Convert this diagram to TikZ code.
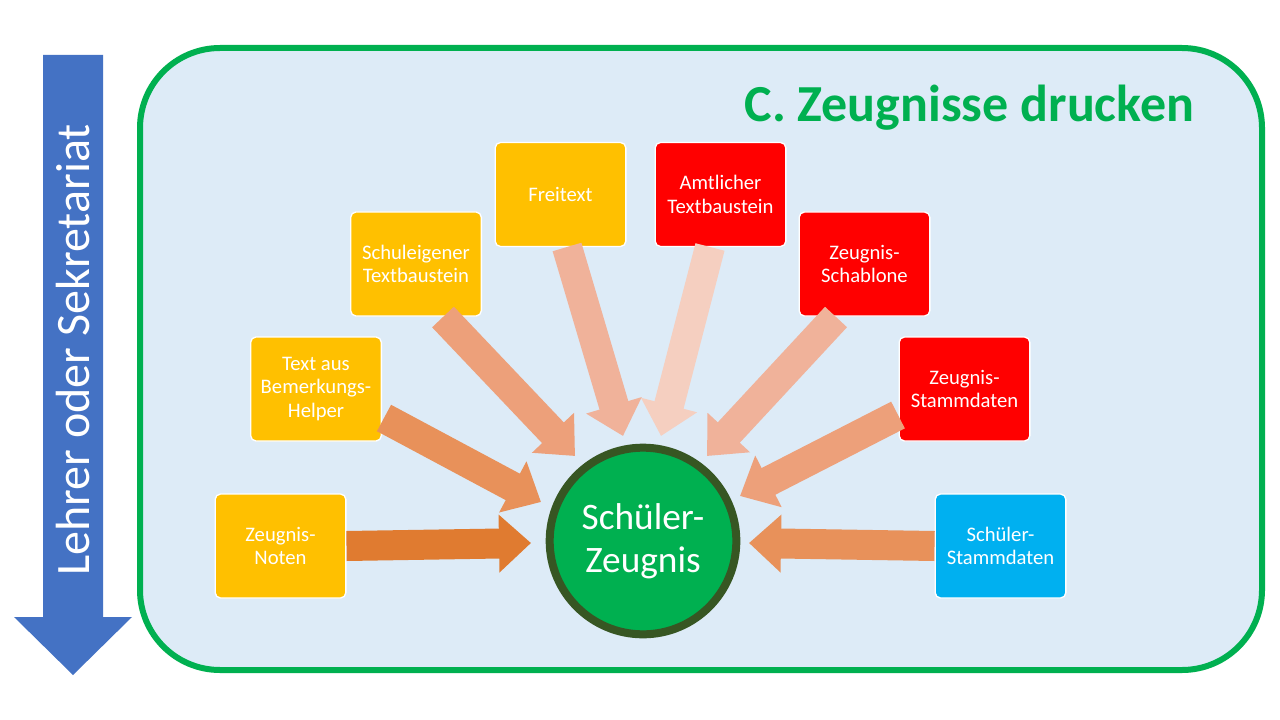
\documentclass[tikz,border=0pt]{standalone}
\usepackage{fontspec}
\setmainfont{Carlito}
\usetikzlibrary{arrows.meta}
\definecolor{boxbg}{HTML}{DDEBF7}
\definecolor{gborder}{HTML}{00B050}
\definecolor{cgreen}{HTML}{00B050}
\definecolor{cdark}{HTML}{375623}
\definecolor{ablue}{HTML}{4472C4}
\definecolor{yel}{HTML}{FFC000}
\definecolor{rd}{HTML}{FF0000}
\definecolor{cy}{HTML}{00B0F0}
\definecolor{a1}{HTML}{E07B30}
\definecolor{a2}{HTML}{E8915A}
\definecolor{a3}{HTML}{EDA07A}
\definecolor{a4}{HTML}{F0B29A}
\definecolor{a5}{HTML}{F5CFC0}
\begin{document}
\begin{tikzpicture}[x=0.75pt,y=-0.75pt,
  src/.style={draw=white,line width=1pt,rounded corners=4pt,minimum width=98pt,minimum height=78pt,text=white,font=\fontsize{15.5}{17.5}\selectfont,align=center,inner sep=2pt},
  fat/.style={line width=22.5pt,-{Triangle[width=42pt,length=24pt]}}]
\useasboundingbox (0,0) rectangle (1280,720);
\fill[white] (0,0) rectangle (1280,720);
\draw[gborder,line width=4.5pt,fill=boxbg,rounded corners=60pt] (140,48) rectangle (1262,670);
% left arrow
\fill[ablue] (43,55) -- (103,55) -- (103,617) -- (132,617) -- (73,675) -- (14,617) -- (43,617) -- cycle;
\node[rotate=90,text=white,font=\fontsize{36}{38}\selectfont] (side) at (73,350) {Lehrer oder Sekretariat};
\node[anchor=east,text=gborder,font=\bfseries\fontsize{39}{41}\selectfont] (title) at (1199,108) {C. Zeugnisse drucken};
% boxes
\node[src,fill=yel] (n1) at (280.5,546) {Zeugnis-\\Noten};
\node[src,fill=yel] (n2) at (316,389) {Text aus\\Bemerkungs-\\Helper};
\node[src,fill=yel] (n3) at (416,264) {Schuleigener\\Textbaustein};
\node[src,fill=yel] (n4) at (560.5,194.5) {Freitext};
\node[src,fill=rd] (n5) at (720.5,194.5) {Amtlicher\\Textbaustein};
\node[src,fill=rd] (n6) at (864.5,264) {Zeugnis-\\Schablone};
\node[src,fill=rd] (n7) at (964.5,389) {Zeugnis-\\Stammdaten};
\node[src,fill=cy] (n8) at (1000.5,546) {Schüler-\\Stammdaten};
% arrow tips
\coordinate (t1) at (531,543);
\coordinate (t2) at (541,502);
\coordinate (t3) at (575,456);
\coordinate (t4) at (623,436);
\coordinate (t5) at (661,436);
\coordinate (t6) at (707,456);
\coordinate (t7) at (740,496);
\coordinate (t8) at (749,543);
\draw[fat,a1] (n1.east) -- (t1);
\draw[fat,a2] (384,418) -- (t2);
\draw[fat,a3] (443,317) -- (t3);
\draw[fat,a4] (567,247) -- (t4);
\draw[fat,a5] (710,247) -- (t5);
\draw[fat,a4] (836,317) -- (t6);
\draw[fat,a3] (898,415) -- (t7);
\draw[fat,a2] (n8.west) -- (t8);
% circle
\node[circle,fill=cgreen,draw=cdark,line width=6pt,minimum size=140pt,text=white,align=center,inner sep=0pt,font=\fontsize{28}{32}\selectfont] (c) at (643,541) {Schüler-\\Zeugnis};
\end{tikzpicture}
\end{document}
